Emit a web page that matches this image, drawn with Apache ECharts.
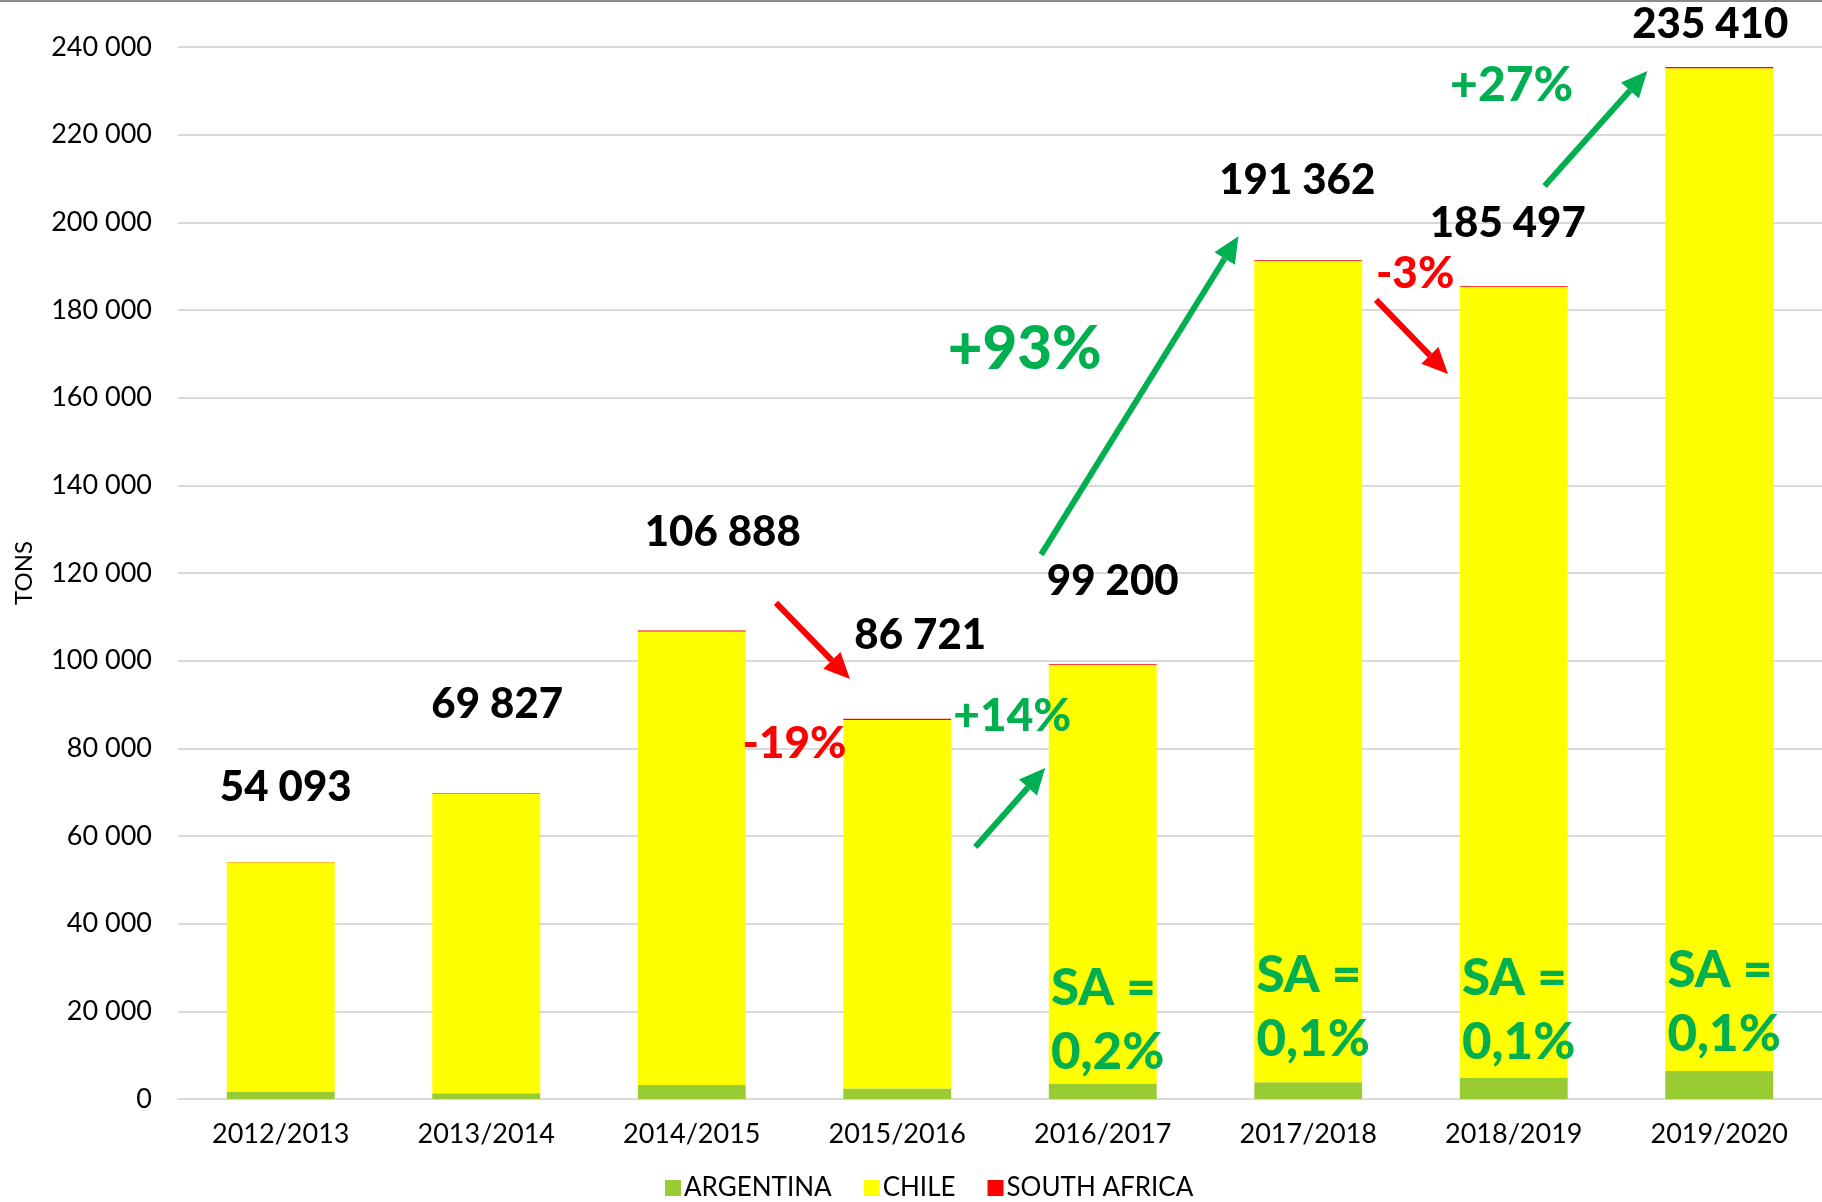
<!DOCTYPE html>
<html>
<head>
<meta charset="utf-8">
<script src="https://cdn.jsdelivr.net/npm/echarts@6/dist/echarts.min.js"></script>
<style>
  html, body { margin: 0; padding: 0; background: #fff; }
  #chart { width: 1822px; height: 1202px; }
</style>
</head>
<body>
<div id="chart"></div>
<script>
const seasons = ['2012/2013', '2013/2014', '2014/2015', '2015/2016', '2016/2017', '2017/2018', '2018/2019', '2019/2020']
const totals = [54093, 69827, 106888, 86721, 99200, 191362, 185497, 235410]
const argentina = [1700, 1300, 3200, 2400, 3560, 3800, 4900, 6400]
const southAfrica = [110, 140, 210, 250, 200, 190, 185, 235]
const chile = totals.map((t, i) => t - argentina[i] - southAfrica[i])

// offsets of the total labels from the bar top
const labelOffsets = [[5, -54], [11, -68], [31, -78], [23, -63], [10, -63], [-11, -60], [-6, -42], [-9, -23]]

// annotations, in [category index, tons]
const arrows = [
  { from: [2.41, 113200], to: [2.77, 95800], color: '#FF0000' },
  { from: [3.38, 57500], to: [3.72, 75500], color: '#00B050' },
  { from: [3.70, 124200], to: [4.66, 196800], color: '#00B050' },
  { from: [5.33, 182300], to: [5.68, 165400], color: '#FF0000' },
  { from: [6.15, 208300], to: [6.65, 234500], color: '#00B050' }
]
const changes = [
  { text: '-19%', at: [2.50, 81000], color: '#FF0000', size: 44 },
  { text: '+14%', at: [3.56, 87400], color: '#00B050', size: 46 },
  { text: '+93%', at: [3.62, 171000], color: '#00B050', size: 60 },
  { text: '-3%', at: [5.52, 188200], color: '#FF0000', size: 44 },
  { text: '+27%', at: [5.99, 231100], color: '#00B050', size: 48 }
]
const saShares = [
  { text: 'SA =\n0,2%', at: [4, 18000] },
  { text: 'SA =\n0,1%', at: [5, 20800] },
  { text: 'SA =\n0,1%', at: [6, 20200] },
  { text: 'SA =\n0,1%', at: [7, 21900] }
]

const FONT = 'Lato, "DejaVu Sans", sans-serif'
const chart = echarts.init(document.getElementById('chart'))

const option = {
  animation: false,
  backgroundColor: '#fff',
  grid: { left: 178, right: 0, top: 47, bottom: 103, outerBoundsMode: 'none' },
  legend: {
    bottom: -4,
    left: 660,
    icon: 'rect',
    itemWidth: 16,
    itemHeight: 16,
    itemGap: 32,
    textStyle: { fontFamily: FONT, fontSize: 26, color: '#000', padding: [0, 0, 0, -2] },
    data: ['ARGENTINA', 'CHILE', 'SOUTH AFRICA']
  },
  xAxis: {
    type: 'category',
    data: seasons,
    axisLine: { lineStyle: { color: '#D9D9D9', width: 2 } },
    axisTick: { show: false },
    axisLabel: { fontFamily: FONT, fontSize: 27, color: '#000', margin: 22 }
  },
  yAxis: {
    type: 'value',
    min: 0,
    max: 240000,
    interval: 20000,
    name: 'TONS',
    nameLocation: 'middle',
    nameGap: 142,
    nameRotate: 90,
    nameTextStyle: { fontFamily: FONT, fontSize: 24, color: '#000' },
    axisLine: { show: false },
    axisTick: { show: false },
    splitLine: { lineStyle: { color: '#D9D9D9', width: 2 } },
    axisLabel: {
      fontFamily: FONT, fontSize: 27, color: '#000', margin: 26,
      formatter: v => v.toLocaleString('en-US').replace(/,/g, ' ')
    }
  },
  series: [
    {
      name: 'ARGENTINA', type: 'bar', stack: 'total', barWidth: '52.5%',
      itemStyle: { color: '#99CC33' }, data: argentina
    },
    {
      name: 'CHILE', type: 'bar', stack: 'total',
      itemStyle: { color: '#FFFF00' }, data: chile
    },
    {
      name: 'SOUTH AFRICA', type: 'bar', stack: 'total',
      itemStyle: { color: '#FF0000' },
      label: {
        show: true, position: 'top', distance: 0,
        fontFamily: FONT, fontSize: 42, fontWeight: 900, color: '#000', lineHeight: 40,
        formatter: p => totals[p.dataIndex].toLocaleString('en-US').replace(/,/g, ' ')
      },
      data: southAfrica.map((v, i) => ({ value: v, label: { offset: labelOffsets[i] } }))
    }
  ]
}

chart.setOption(option)

const x0 = chart.convertToPixel({ xAxisIndex: 0 }, seasons[0])
const step = chart.convertToPixel({ xAxisIndex: 0 }, seasons[1]) - x0
const toPx = ([i, v]) => [x0 + i * step, chart.convertToPixel({ yAxisIndex: 0 }, v)]

const graphics = [
  { type: 'line', z: 100, shape: { x1: 0, y1: 1, x2: 1822, y2: 1 }, style: { stroke: '#8C8C8C', lineWidth: 2 } }
]

arrows.forEach(a => {
  const [sx, sy] = toPx(a.from)
  const [ex, ey] = toPx(a.to)
  const ang = Math.atan2(ey - sy, ex - sx)
  const headLen = 26, headW = 12
  const bx = ex - headLen * Math.cos(ang), by = ey - headLen * Math.sin(ang)
  const nx = -Math.sin(ang), ny = Math.cos(ang)
  graphics.push({
    type: 'line', z: 100, shape: { x1: sx, y1: sy, x2: bx, y2: by },
    style: { stroke: a.color, lineWidth: 6 }
  })
  graphics.push({
    type: 'polygon', z: 100,
    shape: { points: [[ex, ey], [bx + nx * headW, by + ny * headW], [bx - nx * headW, by - ny * headW]] },
    style: { fill: a.color }
  })
})

changes.forEach(c => {
  const [x, y] = toPx(c.at)
  graphics.push({
    type: 'text', z: 100, x, y,
    style: {
      text: c.text, fill: c.color, font: '900 ' + c.size + 'px ' + FONT,
      textAlign: 'center', textVerticalAlign: 'middle'
    }
  })
})

saShares.forEach(s => {
  const [x, y] = toPx(s.at)
  graphics.push({
    type: 'text', z: 100, x: x - step * 0.262 + 2, y,
    style: {
      text: s.text, fill: '#00B050', font: '900 51px ' + FONT, lineHeight: 64,
      textAlign: 'left', textVerticalAlign: 'middle'
    }
  })
})

chart.setOption({ graphic: graphics })
</script>
</body>
</html>
